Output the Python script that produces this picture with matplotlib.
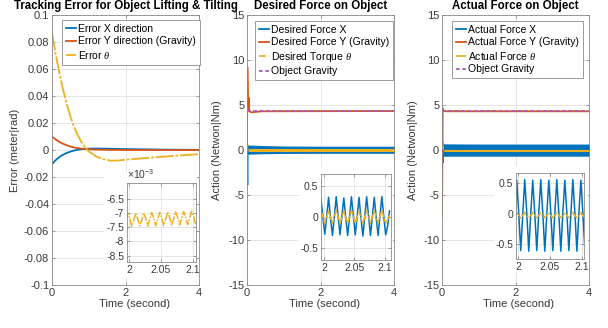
import matplotlib
matplotlib.use("Agg")
import matplotlib.pyplot as plt
from matplotlib.ticker import FormatStrFormatter, FuncFormatter

plt.rcParams["font.family"] = ["Liberation Sans", "DejaVu Sans"]
plt.rcParams["axes.unicode_minus"] = False
plt.rcParams["mathtext.fontset"] = "custom"
plt.rcParams["mathtext.it"] = "Liberation Serif:italic"
plt.rcParams["mathtext.rm"] = "Liberation Sans"

BLUE = "#0072BD"
ORANGE = "#D95319"
YELLOW = "#EDB120"
PURPLE = "#A65CB5"
TXT = "#3a3a3a"

# ---- tracking error (left panel) ----
err_t = [0, 0.1, 0.2, 0.3, 0.4, 0.5, 0.6, 0.7, 0.8, 0.9, 1.0, 1.2, 1.4, 1.6,
         1.8, 2.0, 2.5, 3.0, 3.5, 4.0]
err_x = [-0.0105, -0.0075, -0.0052, -0.0035, -0.0022, -0.0012, -0.0004, 0.0002,
         0.0006, 0.0009, 0.0010, 0.0011, 0.0010, 0.0009, 0.0008, 0.0007, 0.0005,
         0.0003, 0.0002, 0.0001]
err_y = [0.0100, 0.0078, 0.0060, 0.0046, 0.0035, 0.0026, 0.0019, 0.0014, 0.0010,
         0.0007, 0.0005, 0.0003, 0.0002, 0.0001, 0.0001, 0.0, 0.0, 0.0, 0.0, 0.0]
err_theta = [0.087, 0.071, 0.057, 0.045, 0.034, 0.025, 0.017, 0.011, 0.006, 0.002,
             -0.001, -0.0048, -0.0068, -0.0079, -0.0078, -0.0072, -0.0061, -0.0050,
             -0.0040, -0.0031]

# shared time samples of the zoomed insets
inset_t = [1.9950, 1.9981, 2.0013, 2.0044, 2.0075, 2.0106, 2.0138, 2.0169, 2.0200,
           2.0231, 2.0263, 2.0294, 2.0325, 2.0356, 2.0388, 2.0419, 2.0450, 2.0481,
           2.0513, 2.0544, 2.0575, 2.0606, 2.0638, 2.0669, 2.0700, 2.0731, 2.0763,
           2.0794, 2.0825, 2.0856, 2.0888, 2.0919, 2.0950, 2.0981, 2.1013, 2.1044,
           2.1075]
inset_err_theta = [-7.22e-3, -7.02e-3, -7.18e-3, -7.47e-3, -7.26e-3, -7.01e-3, -7.20e-3,
                   -7.46e-3, -7.25e-3, -7.00e-3, -7.19e-3, -7.46e-3, -7.24e-3, -6.99e-3,
                   -7.18e-3, -7.45e-3, -7.23e-3, -6.98e-3, -7.17e-3, -7.44e-3, -7.22e-3,
                   -6.97e-3, -7.16e-3, -7.43e-3, -7.21e-3, -6.96e-3, -7.15e-3, -7.42e-3,
                   -7.20e-3, -6.95e-3, -7.14e-3, -7.41e-3, -7.19e-3, -6.94e-3, -7.13e-3,
                   -7.40e-3, -7.18e-3]

# ---- desired force (middle panel) ----
des_x_t = [0, 0.01, 0.02, 0.05]
des_x = [0, -3.9, 0.4, 0.3]
des_x_band_t = [0.02, 0.5, 1.0, 2.0, 3.0, 4.0]
des_x_band_hi = [0.5, 0.42, 0.38, 0.36, 0.36, 0.36]
des_x_band_lo = [-0.4, -0.35, -0.32, -0.3, -0.3, -0.3]
des_y_t = [0, 0.01, 0.03, 0.05, 0.06, 0.1, 0.15, 0.4, 4.0]
des_y = [0, 9.2, 4.5, 5.8, 4.4, 4.2, 4.2, 4.3, 4.33]
des_th_t = [0, 0.01, 0.03]
des_th = [0, 0.6, 0.1]
des_th_band_t = [0.03, 4.0]
des_th_band_hi = [0.14, 0.14]
des_th_band_lo = [-0.14, -0.14]
gravity_t = [0, 4.0]
gravity = [4.3, 4.3]

inset_des_x = [0.30, 0.00, -0.28, 0.02, 0.32, -0.02, -0.30, 0.00, 0.33, 0.01, -0.29,
               0.02, 0.31, -0.01, -0.30, 0.00, 0.33, 0.02, -0.29, 0.01, 0.32, -0.01,
               -0.31, 0.00, 0.33, 0.02, -0.30, 0.01, 0.32, 0.00, -0.30, 0.02, 0.33,
               0.01, -0.29, -0.15, 0.10]
inset_des_th = [0.10, 0.00, -0.10, 0.01, 0.10, -0.01, -0.10, 0.00, 0.11, 0.01, -0.10,
                0.00, 0.10, -0.01, -0.10, 0.00, 0.11, 0.01, -0.10, 0.00, 0.10, -0.01,
                -0.11, 0.00, 0.11, 0.01, -0.10, 0.00, 0.10, 0.00, -0.10, 0.01, 0.11,
                0.00, -0.10, -0.05, 0.03]

# ---- actual force (right panel) ----
act_x_t = [0, 0.01, 0.02, 0.04]
act_x = [0, 0.9, -1.4, 0.5]
act_x_band_t = [0.03, 1.0, 2.0, 3.0, 4.0]
act_x_band_hi = [0.62, 0.6, 0.6, 0.6, 0.6]
act_x_band_lo = [-0.62, -0.62, -0.62, -0.62, -0.62]
act_y_t = [0, 0.02, 0.04, 0.1, 4.0]
act_y = [-7.5, 4.6, 4.4, 4.3, 4.3]
act_th_t = [0, 0.01, 0.03]
act_th = [0, 0.6, 0.0]
act_th_band_t = [0.03, 4.0]
act_th_band_hi = [0.04, 0.04]
act_th_band_lo = [-0.08, -0.08]

inset_act_x = [-0.10, 0.55, 0.00, -0.61, -0.02, 0.56, 0.01, -0.62, 0.00, 0.55, -0.01,
               -0.61, 0.01, 0.56, 0.00, -0.62, -0.01, 0.55, 0.01, -0.61, 0.00, 0.56,
               -0.01, -0.62, 0.01, 0.55, 0.00, -0.61, -0.01, 0.56, 0.01, -0.62, 0.00,
               0.55, 0.00, -0.60, 0.00]
inset_act_th = [-0.03, 0.02, -0.03, -0.07, -0.03, 0.02, -0.03, -0.07, -0.03, 0.02,
                -0.03, -0.07, -0.03, 0.02, -0.03, -0.07, -0.03, 0.02, -0.03, -0.07,
                -0.03, 0.02, -0.03, -0.07, -0.03, 0.02, -0.03, -0.07, -0.03, 0.02,
                -0.03, -0.07, -0.03, 0.02, -0.03, -0.07, -0.03]


def style(ax, fs=8):
    for s in ax.spines.values():
        s.set_color("#8a8a8a")
        s.set_linewidth(0.6)
    ax.tick_params(direction="in", length=2.5, width=0.6, color="#8a8a8a",
                   labelcolor=TXT, labelsize=fs, pad=2,
                   top=True, right=True)
    ax.grid(True, color="#e2e2e2", linewidth=0.6)
    ax.set_axisbelow(True)


fig = plt.figure(figsize=(6.08, 3.28), dpi=100)
W, H = 608, 328


def white_bg(x0, y0, x1, y1):
    bg = fig.add_axes([x0 / W, 1 - y1 / H, (x1 - x0) / W, (y1 - y0) / H])
    bg.set_xticks([])
    bg.set_yticks([])
    for s in bg.spines.values():
        s.set_visible(False)
    return bg


def main_axes(x0, x1):
    return fig.add_axes([x0 / W, 1 - 285 / H, (x1 - x0) / W, 270 / H])


leg_kw = dict(loc="upper left", fontsize=7.5, handlelength=1.0, handletextpad=0.2,
              borderpad=0.35, labelspacing=0.25, fancybox=False, framealpha=1,
              edgecolor="#8a8a8a", borderaxespad=0)
title_kw = dict(fontsize=8.3, fontweight="bold", pad=4)
lab_kw = dict(fontsize=8, color=TXT)

# panel 1
ax1 = main_axes(52, 199)
style(ax1)
ax1.plot(err_t, err_x, color=BLUE, lw=1.3, label="Error X direction")
ax1.plot(err_t, err_y, color=ORANGE, lw=1.3, label="Error Y direction (Gravity)")
ax1.plot(err_t, err_theta, color=YELLOW, lw=1.3, dashes=(10, 1, 1.5, 1),
         label=r"Error $\theta$")
ax1.set_xlim(0, 4)
ax1.set_ylim(-0.1, 0.1)
ax1.set_xticks([0, 2, 4])
ax1.set_yticks([-0.1, -0.08, -0.06, -0.04, -0.02, 0, 0.02, 0.04, 0.06, 0.08, 0.1])
ax1.yaxis.set_major_formatter(FormatStrFormatter("%g"))
ax1.set_title("Tracking Error for Object Lifting & Tilting", **title_kw)
ax1.set_xlabel("Time (second)", **lab_kw)
ax1.set_ylabel("Error (meter|rad)", **lab_kw)
ax1.xaxis.set_label_coords(0.56, -0.052)
ax1.yaxis.set_label_coords(-0.218, 0.5)
l1 = ax1.legend(bbox_to_anchor=(0.068, 0.981), **leg_kw)
l1.get_frame().set_linewidth(0.6)

# panel 2
ax2 = main_axes(247, 394)
style(ax2)
ax2.fill_between(des_x_band_t, des_x_band_lo, des_x_band_hi, color=BLUE, lw=0.8,
                 edgecolor=BLUE)
ax2.plot(des_x_t, des_x, color=BLUE, lw=1.3, label="Desired Force X")
ax2.plot(des_y_t, des_y, color=ORANGE, lw=1.3, label="Desired Force Y (Gravity)")
ax2.fill_between(des_th_band_t, des_th_band_lo, des_th_band_hi, color=YELLOW, lw=0.8,
                 edgecolor=YELLOW)
ax2.plot(des_th_t, des_th, color=YELLOW, lw=1.3, ls="--",
         label=r"Desired Torque $\theta$")
ax2.plot(gravity_t, gravity, color=PURPLE, lw=1.3, dashes=(2, 1.5),
         label="Object Gravity")
ax2.set_xlim(0, 4)
ax2.set_ylim(-15, 15)
ax2.set_xticks([0, 2, 4])
ax2.set_yticks([-15, -10, -5, 0, 5, 10, 15])
ax2.set_title("Desired Force on Object", **title_kw)
ax2.set_xlabel("Time (second)", **lab_kw)
ax2.set_ylabel("Action (Netwon|Nm)", **lab_kw)
ax2.xaxis.set_label_coords(0.53, -0.052)
ax2.yaxis.set_label_coords(-0.17, 0.5)
l2 = ax2.legend(bbox_to_anchor=(0.054, 0.978), **leg_kw)
l2.get_frame().set_linewidth(0.6)

# panel 3
ax3 = main_axes(442, 589)
style(ax3)
ax3.fill_between(act_x_band_t, act_x_band_lo, act_x_band_hi, color=BLUE, lw=0.8,
                 edgecolor=BLUE)
ax3.plot(act_x_t, act_x, color=BLUE, lw=1.3, label="Actual Force X")
ax3.plot(act_y_t, act_y, color=ORANGE, lw=1.3, label="Actual Force Y (Gravity)")
ax3.fill_between(act_th_band_t, act_th_band_lo, act_th_band_hi, color=YELLOW, lw=0.8,
                 edgecolor=YELLOW)
ax3.plot(act_th_t, act_th, color=YELLOW, lw=1.3, dashes=(6, 1.2, 1.2, 1.2),
         label=r"Actual Force $\theta$")
ax3.plot(gravity_t, gravity, color=PURPLE, lw=1.3, dashes=(2, 1.5),
         label="Object Gravity")
ax3.set_xlim(0, 4)
ax3.set_ylim(-15, 15)
ax3.set_xticks([0, 2, 4])
ax3.set_yticks([-15, -10, -5, 0, 5, 10, 15])
ax3.set_title("Actual Force on Object", **title_kw)
ax3.set_xlabel("Time (second)", **lab_kw)
ax3.set_ylabel("Action (Netwon|Nm)", **lab_kw)
ax3.xaxis.set_label_coords(0.52, -0.052)
ax3.yaxis.set_label_coords(-0.163, 0.5)
l3 = ax3.legend(bbox_to_anchor=(0.068, 0.978), **leg_kw)
l3.get_frame().set_linewidth(0.6)

# insets
white_bg(104, 172, 197, 277)
in1 = fig.add_axes([127 / W, 1 - 262 / H, 69 / W, 79 / H])
style(in1, fs=7.5)
in1.plot(inset_t, inset_err_theta, color=YELLOW, lw=1.1, dashes=(5, 1, 1, 1))
in1.set_xlim(1.997, 2.105)
in1.set_ylim(-8.72e-3, -5.95e-3)
in1.set_xticks([2, 2.05, 2.1])
in1.xaxis.set_major_formatter(FormatStrFormatter("%g"))
in1.set_yticks([-8.5e-3, -8e-3, -7.5e-3, -7e-3, -6.5e-3])
in1.yaxis.set_major_formatter(FuncFormatter(lambda v, p: "%g" % round(v * 1e3, 3)))
in1.text(0.0, 1.02, r"$\times10^{-3}$", transform=in1.transAxes, fontsize=7.5,
         color=TXT, ha="left", va="bottom")

white_bg(299, 168, 393, 273)
in2 = fig.add_axes([321 / W, 1 - 260 / H, 70 / W, 86 / H])
style(in2, fs=7.5)
in2.plot(inset_t, inset_des_x, color=BLUE, lw=1.1)
in2.plot(inset_t, inset_des_th, color=YELLOW, lw=1.1, dashes=(5, 1))
in2.set_xlim(1.995, 2.11)
in2.set_ylim(-0.7, 0.7)
in2.set_xticks([2, 2.05, 2.1])
in2.xaxis.set_major_formatter(FormatStrFormatter("%g"))
in2.set_yticks([-0.5, 0, 0.5])
in2.yaxis.set_major_formatter(FormatStrFormatter("%g"))

white_bg(494, 166, 588, 272)
in3 = fig.add_axes([516 / W, 1 - 259 / H, 68 / W, 86 / H])
style(in3, fs=7.5)
in3.plot(inset_t, inset_act_x, color=BLUE, lw=1.1)
in3.plot(inset_t, inset_act_th, color=YELLOW, lw=1.1, dashes=(5, 1, 1, 1))
in3.set_xlim(1.997, 2.103)
in3.set_ylim(-0.75, 0.67)
in3.set_xticks([2, 2.05, 2.1])
in3.xaxis.set_major_formatter(FormatStrFormatter("%g"))
in3.set_yticks([-0.5, 0, 0.5])
in3.yaxis.set_major_formatter(FormatStrFormatter("%g"))

fig.savefig("out.png", dpi=100)
